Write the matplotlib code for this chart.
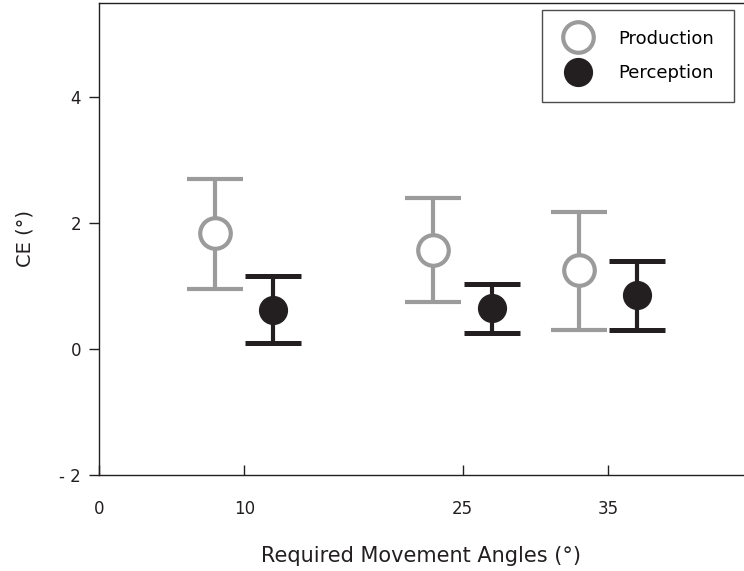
import matplotlib
matplotlib.use("Agg")
import matplotlib.pyplot as plt
from matplotlib.lines import Line2D

plt.rcParams["font.family"] = ["DejaVu Sans"]

# required movement angles and the x positions of each group (offset +/- 2)
angles = [10, 25, 35]
production_x = [8, 23, 33]
perception_x = [12, 27, 37]

# constant error (deg) with error bar ends
production_mean = [1.85, 1.57, 1.25]
production_upper = [2.71, 2.40, 2.18]
production_lower = [0.95, 0.75, 0.31]

perception_mean = [0.62, 0.65, 0.86]
perception_upper = [1.16, 1.04, 1.40]
perception_lower = [0.09, 0.25, 0.31]

xticks = [0, 10, 25, 35]
yticks = [-2, 0, 2, 4]

GREY = "#9b9b9b"
BLACK = "#231f20"


def errs(mean, lower, upper):
    return [[m - l for m, l in zip(mean, lower)],
            [u - m for m, u in zip(mean, upper)]]


fig = plt.figure(figsize=(7.44, 5.71), dpi=100)
ax = fig.add_axes([0.133, 0.168, 0.867, 0.827])

ax.errorbar(production_x, production_mean,
            yerr=errs(production_mean, production_lower, production_upper),
            fmt="o", color=GREY, ecolor=GREY, elinewidth=3, capsize=20,
            capthick=3.6, markersize=22, markerfacecolor="white",
            markeredgecolor=GREY, markeredgewidth=3, zorder=3)
ax.errorbar(perception_x, perception_mean,
            yerr=errs(perception_mean, perception_lower, perception_upper),
            fmt="o", color=BLACK, ecolor=BLACK, elinewidth=3, capsize=20,
            capthick=3.6, markersize=20, markerfacecolor=BLACK,
            markeredgecolor=BLACK, zorder=3)

ax.set_xlim(0, 44.35)
ax.set_ylim(-2, 5.5)
ax.set_xticks(xticks)
ax.set_yticks(yticks)
ax.set_yticklabels(["- 2", "0", "2", "4"])
ax.tick_params(axis="x", direction="in", length=7, width=1, labelsize=12,
               pad=18, colors=BLACK)
ax.tick_params(axis="y", direction="out", length=7, width=1, labelsize=12,
               pad=6, colors=BLACK)
ax.spines["right"].set_visible(False)
for s in ["left", "bottom", "top"]:
    ax.spines[s].set_linewidth(1)
    ax.spines[s].set_color(BLACK)

ax.set_xlabel("Required Movement Angles (°)", fontsize=15, labelpad=20,
              color=BLACK)
ax.set_ylabel("CE (°)", fontsize=14, labelpad=18, color=BLACK)

handles = [
    Line2D([], [], marker="o", linestyle="none", markersize=22,
           markerfacecolor="white", markeredgecolor=GREY, markeredgewidth=3),
    Line2D([], [], marker="o", linestyle="none", markersize=20,
           markerfacecolor=BLACK, markeredgecolor=BLACK),
]
leg = ax.legend(handles, ["Production", "Perception"], loc="upper left",
                bbox_to_anchor=(0.687, 0.985), borderaxespad=0, fontsize=13,
                frameon=True, fancybox=False, edgecolor=BLACK,
                handletextpad=1.3, borderpad=1.1, labelspacing=0.89,
                handlelength=1.8)
leg.get_frame().set_linewidth(1)

fig.savefig("out.png", dpi=100)
